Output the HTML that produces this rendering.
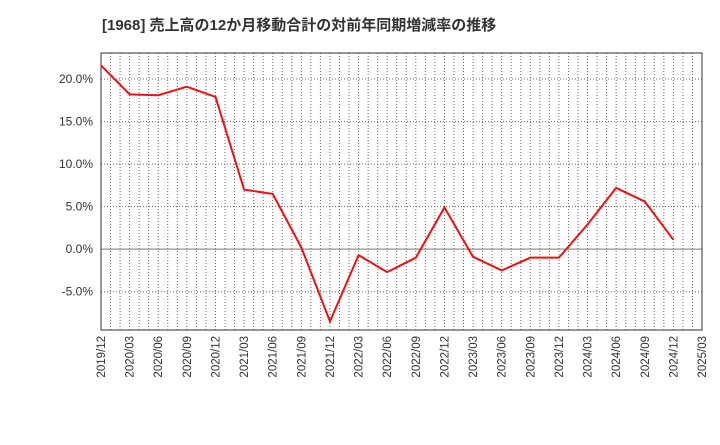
<!DOCTYPE html>
<html><head><meta charset="utf-8"><style>
body{margin:0;background:#fff;font-family:"Liberation Sans","Noto Sans CJK JP",sans-serif;}
</style></head><body>
<svg width="720" height="440" xmlns="http://www.w3.org/2000/svg">
<text x="102" y="30" font-size="15" font-weight="bold" fill="#333" font-family="Liberation Sans, Noto Sans CJK JP, sans-serif">[1968]  売上高の12か月移動合計の対前年同期増減率の推移</text>
<g id="grid"></g><g id="axes"></g><g id="series"></g>
</svg>
<script>
const categories=["2019/12","2020/03","2020/06","2020/09","2020/12","2021/03","2021/06","2021/09","2021/12","2022/03","2022/06","2022/09","2022/12","2023/03","2023/06","2023/09","2023/12","2024/03","2024/06","2024/09","2024/12","2025/03"];
const values=[21.6,18.2,18.1,19.1,17.9,7.0,6.5,0.2,-8.5,-0.7,-2.7,-1.0,4.9,-0.9,-2.5,-1.0,-1.0,2.9,7.2,5.6,1.1];
const yTicks=[20,15,10,5,0,-5];
const tickLabels=["20.0%","15.0%","10.0%","5.0%","0.0%","-5.0%"];
const L=101,R=702,T=53,B=330,yMin=-9.5,yMax=23.06;
const ns="http://www.w3.org/2000/svg";
const xs=i=>L+(R-L)*i/(categories.length-1);
const ys=v=>B-(v-yMin)/(yMax-yMin)*(B-T);
function mk(tag,attrs,parent){const e=document.createElementNS(ns,tag);for(const k in attrs)e.setAttribute(k,attrs[k]);document.getElementById(parent).appendChild(e);return e;}
const months=(categories.length-1)*3;
for(let m=1;m<months;m++){const x=L+(R-L)*m/months;
const g=mk("line",{x1:x,x2:x,y1:T,y2:B,stroke:"#666","stroke-dasharray":"1,2","stroke-width":1},"grid");

}
yTicks.forEach((t,i)=>{const y=ys(t);
const g=mk("line",{x1:L,x2:R,y1:y,y2:y,stroke:t===0?"#777":"#666","stroke-dasharray":t===0?"none":"1,2","stroke-width":1},"grid");


const tx=mk("text",{x:L-8,y:y+4,"text-anchor":"end","font-size":12,fill:"#333"},"axes");tx.textContent=tickLabels[i];

});
categories.forEach((c,i)=>{const x=xs(i);
const tx=mk("text",{transform:`translate(${x+4},${B+6}) rotate(-90)`,"text-anchor":"end","font-size":11.5,fill:"#333"},"axes");tx.textContent=c;

});
const fr=mk("rect",{x:L,y:T,width:R-L,height:B-T,fill:"none",stroke:"#333","stroke-width":1},"axes");


const pl=mk("polyline",{points:values.map((v,i)=>xs(i)+","+ys(v)).join(" "),fill:"none",stroke:"#ee1111","stroke-width":2},"series");


</script>
</body></html>
